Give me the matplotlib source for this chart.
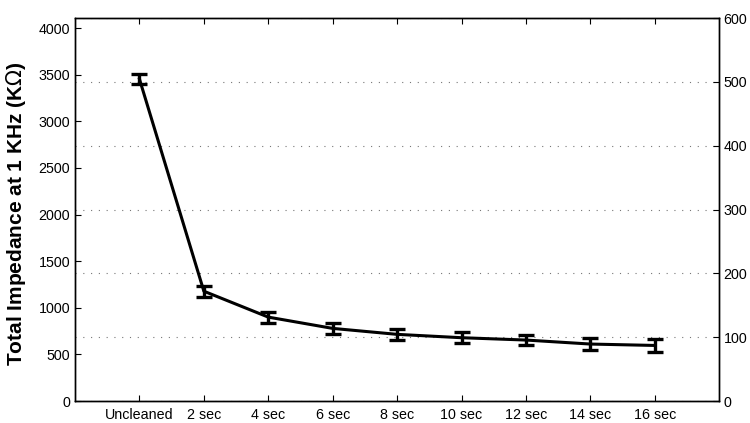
import matplotlib
matplotlib.use("Agg")
import matplotlib.pyplot as plt

plt.rcParams['font.family'] = ['Liberation Sans', 'DejaVu Sans']

labels = ['Uncleaned', '2 sec', '4 sec', '6 sec', '8 sec', '10 sec', '12 sec', '14 sec', '16 sec']
impedance = [3455, 1178, 900, 779, 715, 679, 654, 611, 596]
errors = [55, 58, 58, 62, 60, 60, 57, 68, 66]

left_ticks = [0, 500, 1000, 1500, 2000, 2500, 3000, 3500, 4000]
right_ticks = [0, 100, 200, 300, 400, 500, 600]

fig = plt.figure(figsize=(7.5, 4.23), dpi=100)
ax = fig.add_axes([0.1, 0.052, 0.859, 0.905])
x = list(range(1, len(labels) + 1))

ax.errorbar(x, impedance, yerr=errors, color='k', lw=2.2, elinewidth=2.4,
            capsize=5.5, capthick=2.4, zorder=3)
ax.set_xlim(0, 10)
ax.set_ylim(0, 4107)
ax.set_xticks(x)
ax.set_xticklabels(labels, fontsize=10.3)
ax.set_yticks(left_ticks)
ax.tick_params(axis='both', direction='in', labelsize=10.3, top=True, right=True,
               length=4, width=0.8)
ax.tick_params(axis='x', pad=5)
ax.set_ylabel('Total Impedance at 1 KHz (K$\\Omega$)', fontsize=15,
              fontweight='bold')
ax.yaxis.set_label_coords(-0.073, 0.49)

ax2 = ax.twinx()
ax2.set_ylim(0, 600)
ax2.set_yticks(right_ticks)
ax2.tick_params(axis='y', direction='in', labelsize=10.3, length=4, width=0.8, pad=3)
ax2.yaxis.grid(True, linestyle=(0, (1, 6)), color='#777777', lw=0.8)
ax2.set_axisbelow(True)
ax.set_zorder(ax2.get_zorder() + 1)
ax.patch.set_visible(False)

for a in (ax, ax2):
    for s in a.spines.values():
        s.set_linewidth(1.0)

fig.savefig('out.png', dpi=100)
